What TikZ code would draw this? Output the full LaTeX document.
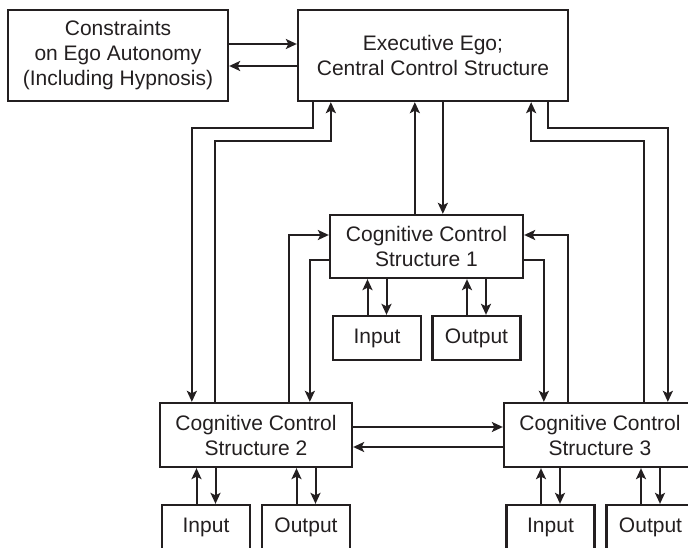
\documentclass[tikz,border=0pt]{standalone}
\usepackage{fontspec}
\setmainfont{Liberation Sans}
\usetikzlibrary{arrows.meta,calc}
\definecolor{ink}{HTML}{231F20}
\tikzset{
	box/.style={draw=ink, line width=2.3pt, inner sep=0pt, align=center, text=ink,
		font=\fontsize{21}{25}\selectfont},
	iobox/.style={box, minimum width=88pt, minimum height=44pt},
	ccsbox/.style={box, minimum width=192pt, minimum height=64pt},
	arr/.style={draw=ink, line width=2pt, -{Stealth[length=11pt,width=10pt,inset=2.5pt]}},
}
\begin{document}
\begin{tikzpicture}[x=1pt, y=-1pt]
	\clip (0,0) rectangle (688,548);
	% top row
	\node[box, minimum width=220pt, minimum height=91pt] (cons) at (118,55.5) {Constraints\\on Ego Autonomy\\(Including Hypnosis)};
	\node[box, minimum width=270pt, minimum height=91pt] (exec) at (433,55.5) {Executive Ego;\\Central Control Structure};
	% control structures
	\node[ccsbox, minimum width=193pt, minimum height=63pt] (ccs1) at (426.5,246.5) {Cognitive Control\\Structure 1};
	\node[ccsbox] (ccs2) at (256,435) {Cognitive Control\\Structure 2};
	\node[ccsbox] (ccs3) at (600,435) {Cognitive Control\\Structure 3};
	% input / output
	\node[iobox] (in1) at (377,338) {Input};
	\node[iobox] (out1) at (476.5,338) {Output};
	\node[iobox] (in2) at (206,527) {Input};
	\node[iobox] (out2) at (306,527) {Output};
	\node[iobox] (in3) at (550.5,527) {Input};
	\node[iobox] (out3) at (650.5,527) {Output};
	% constraints <-> executive
	\draw[arr] ([yshift=11.5pt]cons.east) -- ([yshift=11.5pt]exec.west);
	\draw[arr] ([yshift=-10.5pt]exec.west) -- ([yshift=-10.5pt]cons.east);
	% executive <-> structure 1
	\draw[arr] ([xshift=86pt]ccs1.north west) -- ([xshift=118pt]exec.south west);
	\draw[arr] ([xshift=146pt]exec.south west) -- ([xshift=114pt]ccs1.north west);
	% executive <-> structure 2
	\draw[arr] ([xshift=16pt]exec.south west) -- ++(0,26) -| ([xshift=33pt]ccs2.north west);
	\draw[arr] ([xshift=56pt]ccs2.north west) -- ++(0,-261) -| ([xshift=34pt]exec.south west);
	% executive <-> structure 3
	\draw[arr] ([xshift=141pt]ccs3.north west) -- ++(0,-261) -| ([xshift=-38pt]exec.south east);
	\draw[arr] ([xshift=-21pt]exec.south east) -- ++(0,26) -| ([xshift=165pt]ccs3.north west);
	% structure 1 <-> structures 2 and 3
	\draw[arr] ([xshift=130pt]ccs2.north west) |- ([yshift=11.5pt]ccs1.west);
	\draw[arr] ([yshift=-13.5pt]ccs1.west) -| ([xshift=151pt]ccs2.north west);
	\draw[arr] ([xshift=65pt]ccs3.north west) |- ([yshift=11.5pt]ccs1.east);
	\draw[arr] ([yshift=-13.5pt]ccs1.east) -| ([xshift=41pt]ccs3.north west);
	% structure 2 <-> structure 3
	\draw[arr] ([yshift=8pt]ccs2.east) -- ([yshift=8pt]ccs3.west);
	\draw[arr] ([yshift=-12pt]ccs3.west) -- ([yshift=-12pt]ccs2.east);
	% input / output links
	\draw[arr] ($(in1.north)+(-9.5,0)$) -- ($(in1.north|-ccs1.south)+(-9.5,0)$);
	\draw[arr] ($(in1.north|-ccs1.south)+(9.5,0)$) -- ($(in1.north)+(9.5,0)$);
	\draw[arr] ($(out1.north)+(-9.5,0)$) -- ($(out1.north|-ccs1.south)+(-9.5,0)$);
	\draw[arr] ($(out1.north|-ccs1.south)+(9.5,0)$) -- ($(out1.north)+(9.5,0)$);
	\draw[arr] ($(in2.north)+(-9.5,0)$) -- ($(in2.north|-ccs2.south)+(-9.5,0)$);
	\draw[arr] ($(in2.north|-ccs2.south)+(9.5,0)$) -- ($(in2.north)+(9.5,0)$);
	\draw[arr] ($(out2.north)+(-9.5,0)$) -- ($(out2.north|-ccs2.south)+(-9.5,0)$);
	\draw[arr] ($(out2.north|-ccs2.south)+(9.5,0)$) -- ($(out2.north)+(9.5,0)$);
	\draw[arr] ($(in3.north)+(-9.5,0)$) -- ($(in3.north|-ccs3.south)+(-9.5,0)$);
	\draw[arr] ($(in3.north|-ccs3.south)+(9.5,0)$) -- ($(in3.north)+(9.5,0)$);
	\draw[arr] ($(out3.north)+(-9.5,0)$) -- ($(out3.north|-ccs3.south)+(-9.5,0)$);
	\draw[arr] ($(out3.north|-ccs3.south)+(9.5,0)$) -- ($(out3.north)+(9.5,0)$);
\end{tikzpicture}
\end{document}
